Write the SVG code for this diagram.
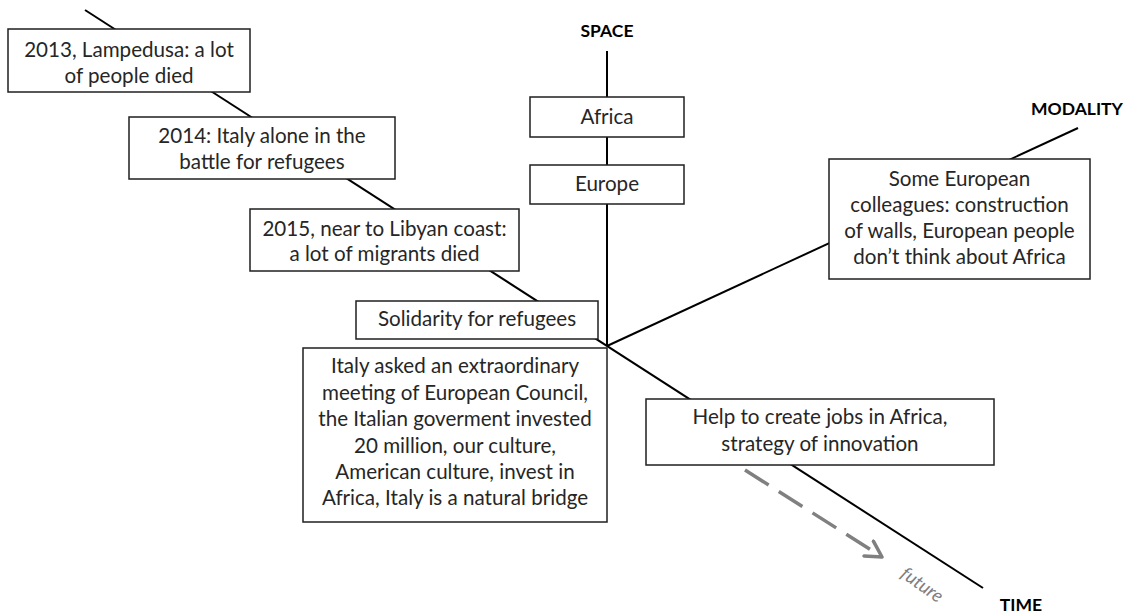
<svg xmlns="http://www.w3.org/2000/svg" width="1132" height="615" viewBox="0 0 1132 615">
<style>
  .box { fill: #ffffff; stroke: #1f1f1f; stroke-width: 1.5; }
  .t { font-family: Lato, "Open Sans", sans-serif; font-size: 20.6px; fill: #262626; text-anchor: middle; }
  .ax { font-family: Lato, "Open Sans", sans-serif; font-size: 17.5px; font-weight: bold; fill: #000000; text-anchor: middle; }
  .axis { stroke: #000000; stroke-width: 2; fill: none; }
</style>
<defs>
  <marker id="chev" viewBox="0 0 12 12" refX="10" refY="6" markerWidth="6" markerHeight="6" orient="auto" markerUnits="strokeWidth">
    <path d="M1,1 L10,6 L1,11" fill="none" stroke="#808080" stroke-width="2" stroke-linecap="round" stroke-linejoin="round"/>
  </marker>
</defs>
<rect width="1132" height="615" fill="#ffffff"/>
<g id="connectors">
  <line class="axis" x1="85" y1="10" x2="983" y2="588"/>
  <line class="axis" x1="607" y1="51" x2="607" y2="346"/>
  <line class="axis" x1="607" y1="346" x2="1078" y2="128"/>
  <line x1="745" y1="470" x2="882" y2="557" stroke="#808080" stroke-width="3.5" stroke-dasharray="28 12" marker-end="url(#chev)"/>
</g>
<g id="label-space"><text class="ax" x="607" y="37">SPACE</text></g>
<g id="label-modality"><text class="ax" x="1077" y="115">MODALITY</text></g>
<g id="label-time"><text class="ax" x="1021" y="611">TIME</text></g>
<g id="label-future"><text x="922" y="591" transform="rotate(35 922 585)" font-family="Lato, 'Open Sans', sans-serif" font-size="18.5" font-style="italic" fill="#7f7f7f" text-anchor="middle">future</text></g>
<g id="n2013">
  <rect class="box" x="8" y="29" width="242" height="63"/>
  <text class="t" x="129" y="57">2013, Lampedusa: a lot</text>
  <text class="t" x="129" y="83">of people died</text>
</g>
<g id="n2014">
  <rect class="box" x="129" y="117" width="266" height="62"/>
  <text class="t" x="262" y="143">2014: Italy alone in the</text>
  <text class="t" x="262" y="169">battle for refugees</text>
</g>
<g id="n2015">
  <rect class="box" x="250" y="209" width="269" height="62"/>
  <text class="t" x="384.5" y="236">2015, near to Libyan coast:</text>
  <text class="t" x="384.5" y="261">a lot of migrants died</text>
</g>
<g id="nsolidarity">
  <rect class="box" x="356" y="301" width="242" height="38"/>
  <text class="t" x="477" y="326">Solidarity for refugees</text>
</g>
<g id="nitaly">
  <rect class="box" x="303" y="348" width="304" height="174"/>
  <text class="t" x="455" y="373">Italy asked an extraordinary</text>
  <text class="t" x="455" y="399.5">meeting of European Council,</text>
  <text class="t" x="455" y="426">the Italian goverment invested</text>
  <text class="t" x="455" y="452.5">20 million, our culture,</text>
  <text class="t" x="455" y="479">American culture, invest in</text>
  <text class="t" x="455" y="505">Africa, Italy is a natural bridge</text>
</g>
<g id="nafrica">
  <rect class="box" x="530" y="97" width="154" height="40"/>
  <text class="t" x="607" y="124">Africa</text>
</g>
<g id="neurope">
  <rect class="box" x="530" y="165" width="154" height="39"/>
  <text class="t" x="607" y="191">Europe</text>
</g>
<g id="nmodality">
  <rect class="box" x="829" y="159" width="261" height="120"/>
  <text class="t" x="959.5" y="186">Some European</text>
  <text class="t" x="959.5" y="212">colleagues: construction</text>
  <text class="t" x="959.5" y="238">of walls, European people</text>
  <text class="t" x="959.5" y="264">don’t think about Africa</text>
</g>
<g id="nhelp">
  <rect class="box" x="646" y="399" width="348" height="66"/>
  <text class="t" x="820" y="424">Help to create jobs in Africa,</text>
  <text class="t" x="820" y="451">strategy of innovation</text>
</g>
</svg>
